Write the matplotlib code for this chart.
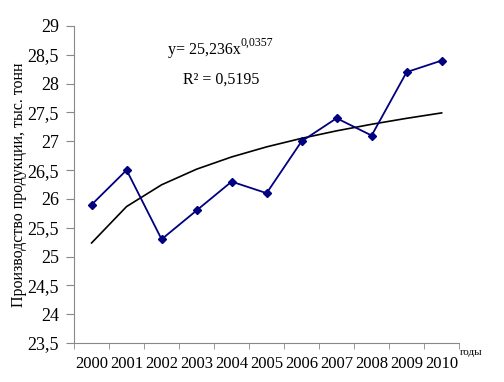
import numpy as np
import matplotlib.pyplot as plt

plt.rcParams['font.family'] = ['Liberation Serif', 'DejaVu Serif']

years = ['2000', '2001', '2002', '2003', '2004', '2005',
         '2006', '2007', '2008', '2009', '2010']
production = [25.9, 26.5, 25.3, 25.8, 26.3, 26.1, 27.0, 27.4, 27.1, 28.2, 28.4]
# power trend y = 25,236x^0,0357 read at each year
trend = [25.236, 25.868, 26.245, 26.516, 26.728, 26.903,
         27.051, 27.181, 27.295, 27.398, 27.492]
y_ticks = [23.5, 24, 24.5, 25, 25.5, 26, 26.5, 27, 27.5, 28, 28.5, 29]

fig = plt.figure(figsize=(5.04, 3.82), dpi=100)
ax = fig.add_axes([0.147, 0.102, 0.764, 0.830])

x = np.arange(len(years))
ax.plot(x, trend, color='black', lw=1.2)
ax.plot(x, production, color='#000080', lw=1.3, marker='D', ms=4.5)

ax.set_xlim(-0.5, len(years) - 0.5)
ax.set_ylim(23.5, 29)
ax.set_yticks(y_ticks)
ax.set_yticklabels([f'{v:g}'.replace('.', ',') for v in y_ticks], fontsize=13)
ax.set_xticks(x)
ax.set_xticklabels(years, fontsize=12)
ax.tick_params(axis='x', which='major', length=0, pad=9)
ax.set_xticks(np.arange(len(years) + 1) - 0.5, minor=True)
ax.tick_params(axis='x', which='minor', length=4, color='#888888')
ax.tick_params(axis='y', length=6, color='#888888', pad=5)

for s in ['top', 'right']:
    ax.spines[s].set_visible(False)
for s in ['left', 'bottom']:
    ax.spines[s].set_color('#888888')

ax.set_ylabel('Производство продукции, тыс. тонн', fontsize=11.5)
ax.yaxis.set_label_coords(-0.122, 0.5)
fig.text(0.913, 0.077, 'годы', fontsize=8, ha='left', va='center')

eq = ax.text(0.244, 0.925, 'y= 25,236x', transform=ax.transAxes,
             fontsize=11.5, ha='left', va='center')
ax.annotate('0,0357', xy=(1, 0.55), xycoords=eq, fontsize=8.5,
            ha='left', va='bottom')
ax.text(0.283, 0.83, 'R² = 0,5195', transform=ax.transAxes,
        fontsize=11.5, ha='left', va='center')

fig.savefig('out.png', dpi=100)
